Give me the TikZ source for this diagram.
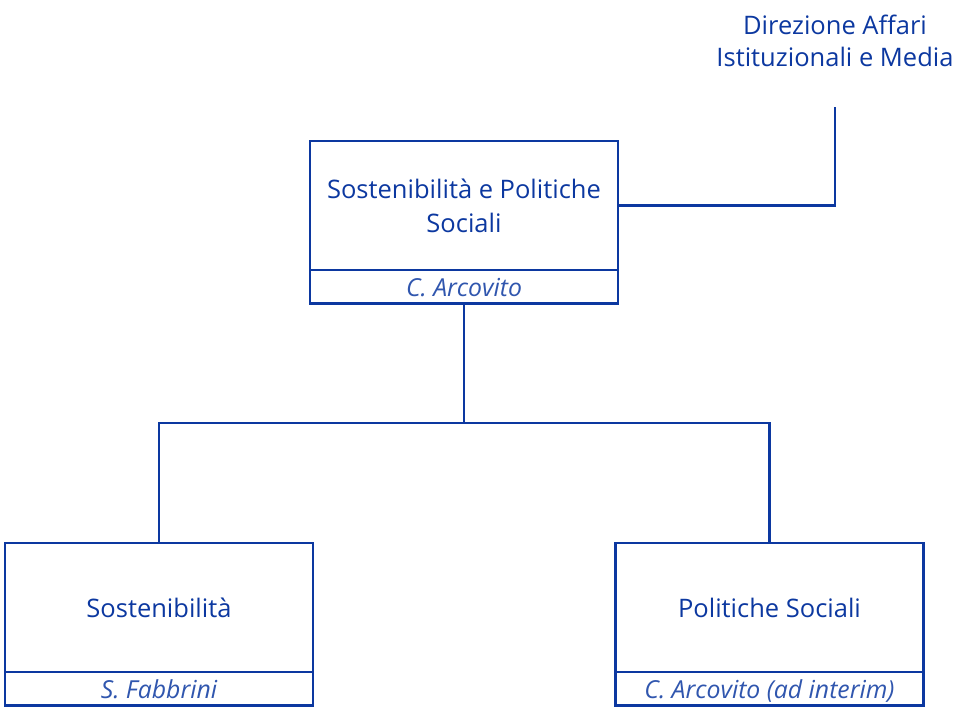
\documentclass[tikz,border=0pt]{standalone}
\usepackage{fontspec}
\setmainfont{Open Sans}
\definecolor{orgblue}{RGB}{12,56,160}
\begin{document}
\begin{tikzpicture}[x=1pt,y=-1pt,
  line/.style={draw=orgblue,line width=2.8pt},
  mainbox/.style={line,rectangle,minimum width=308pt,minimum height=129pt,inner sep=0pt,outer sep=0pt,
     align=center,text=orgblue,font=\fontsize{25.5}{34}\selectfont},
  namebox/.style={line,rectangle,minimum width=308pt,minimum height=33.5pt,inner sep=0pt,outer sep=0pt,
     text=orgblue!85,text height=22pt,text depth=2pt,font=\fontsize{24.8}{27}\selectfont\itshape},
  plain/.style={align=center,text=orgblue,inner sep=0pt,font=\fontsize{25.5}{32}\selectfont}]
\useasboundingbox (0,0) rectangle (961,713);
% top
\node[mainbox] (top) at (464,205.5) {Sostenibilità e Politiche\\Sociali};
\node[namebox,anchor=north] (topn) at (top.south) {C. Arcovito};
% bottom left
\node[mainbox] (sost) at (159,607.5) {Sostenibilità};
\node[namebox,anchor=north] (sostn) at (sost.south) {S. Fabbrini};
% bottom right
\node[mainbox] (pol) at (769.5,607.5) {Politiche Sociali};
\node[namebox,anchor=north] (poln) at (pol.south) {C. Arcovito (ad interim)};
% direzione
\node[plain] (dir) at (835,41) {Direzione Affari\\Istituzionali e Media};
\coordinate (dirend) at (835,107);
\coordinate (bus) at (464,423);
% connectors
\draw[line] (top.east) -| (dirend);
\draw[line] (topn.south) -- (bus);
\draw[line] (sost.north) |- (bus) -| (pol.north);
\end{tikzpicture}
\end{document}
